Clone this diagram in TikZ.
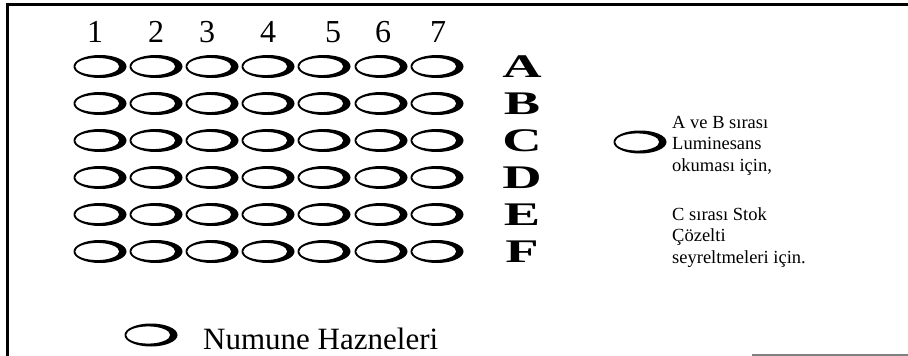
\documentclass[tikz,border=0pt]{standalone}
\usepackage{fontspec}
\setmainfont{Liberation Serif}
\begin{document}
\begin{tikzpicture}[x=1pt,y=-1pt,
  well/.pic={\fill[even odd rule] (0,0) ellipse [x radius=26.5pt, y radius=11.5pt] (-2.8pt,0) ellipse [x radius=22pt, y radius=8.6pt];},
  colnum/.style={font=\fontsize{32}{32}\selectfont, inner sep=0pt, anchor=base},
  rowlab/.style={font=\fontsize{33}{33}\selectfont\bfseries, inner sep=0pt, anchor=base, xscale=1.65},
  legtext/.style={font=\fontsize{18.5}{21}\selectfont, inner sep=0pt, anchor=base west},
  frame/.style={line width=3pt, line cap=rect}
]
\useasboundingbox (0,0) rectangle (908,356);
% frame
\draw[frame] (908,4) -- (7,4) -- (7,358);
\draw[gray, line width=1.5pt] (752,355) -- (908,355);
% column numbers
\foreach \n/\x in {1/95,2/156,3/207,4/268,5/333,6/383,7/438}
  \node[colnum] (col\n) at (\x,42) {\n};
% wells
\foreach \r/\y [count=\ri] in {A/66.5,B/103.5,C/140.5,D/177.5,E/214.5,F/251.5} {
  \foreach \c/\x in {1/100,2/156,3/212,4/268,5/324,6/381,7/437}
    \pic (w\r\c) at (\x,\y) {well};
  \node[rowlab] (row\r) at (522,\y+10.5) {\r};
}
% right legend
\pic (legwell) at (640,142) {well};
\node[legtext] (l1) at (672,128) {A ve B sırası};
\node[legtext] (l2) at (672,149.5) {Luminesans};
\node[legtext] (l3) at (672,171) {okuması için,};
\node[legtext] (l4) at (672,220.5) {C sırası Stok};
\node[legtext] (l5) at (672,241.5) {Çözelti};
\node[legtext] (l6) at (672,263) {seyreltmeleri için.};
% bottom legend
\pic (botwell) at (151,335) {well};
\node[font=\fontsize{31}{31}\selectfont, inner sep=0pt, anchor=base west] (numune) at (203,349) {Numune Hazneleri};
\end{tikzpicture}
\end{document}
